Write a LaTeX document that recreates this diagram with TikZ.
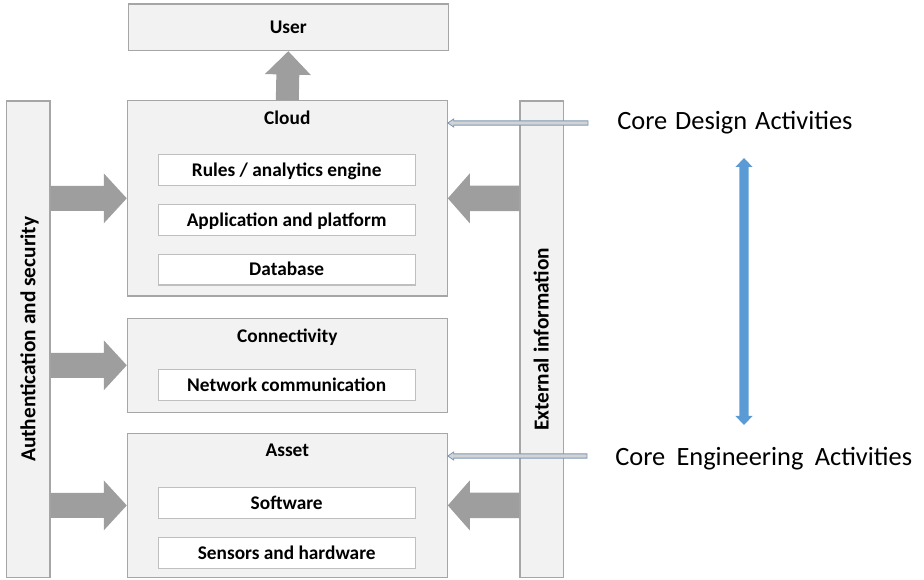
\documentclass[tikz,border=0pt]{standalone}
\usepackage{fontspec}
\setmainfont{Carlito}
\usetikzlibrary{calc,fit}

\definecolor{boxfill}{HTML}{F2F2F2}
\definecolor{boxline}{HTML}{A6A6A6}
\definecolor{innerline}{HTML}{BFBFBF}
\definecolor{arrowgray}{HTML}{9E9E9E}
\definecolor{linkblue}{HTML}{5B9BD5}
\definecolor{thinline}{HTML}{7C98B8}
\definecolor{thinfill}{HTML}{D3D3D3}

% block arrow: [style]{from}{to}{half shaft}{half head}{head length}
\newcommand\blockarrow[6][]{%
  \coordinate (hb) at ($(#3)!#6!(#2)$);
  \path[#1] ($(#2)!#4!90:(#3)$) -- ($(hb)!#4!90:(#3)$) -- ($(hb)!#5!90:(#3)$)
    -- (#3) -- ($(hb)!#5!-90:(#3)$) -- ($(hb)!#4!-90:(#3)$)
    -- ($(#2)!#4!-90:(#3)$) -- cycle;}

% two-headed block arrow: [style]{from}{to}{half shaft}{half head}{head length}
\newcommand\twowayarrow[6][]{%
  \coordinate (ha) at ($(#2)!#6!(#3)$);
  \coordinate (hb) at ($(#3)!#6!(#2)$);
  \path[#1] (#2) -- ($(ha)!#5!90:(#3)$) -- ($(ha)!#4!90:(#3)$)
    -- ($(hb)!#4!90:(#3)$) -- ($(hb)!#5!90:(#3)$) -- (#3)
    -- ($(hb)!#5!-90:(#3)$) -- ($(hb)!#4!-90:(#3)$)
    -- ($(ha)!#4!-90:(#3)$) -- ($(ha)!#5!-90:(#3)$) -- cycle;}

\tikzset{
  layer/.style={draw=boxline, fill=boxfill, line width=0.8pt, inner sep=0pt},
  part/.style={draw=innerline, fill=white, line width=0.8pt, inner sep=0pt,
    minimum width=192.5pt, minimum height=23pt,
    font=\fontsize{14.5pt}{17pt}\selectfont\bfseries, text height=9.3pt, text depth=0pt},
  heading/.style={anchor=base, inner sep=0pt, font=\fontsize{14.5pt}{17pt}\selectfont\bfseries},
  sidetext/.style={rotate=90, inner sep=0pt, text height=10.5pt, text depth=0pt,
    font=\fontsize{16pt}{19pt}\selectfont\bfseries},
  activity/.style={anchor=base west, inner sep=0pt, font=\fontsize{19.8pt}{23pt}\selectfont},
  bigarrow/.style={fill=arrowgray},
  thinarrow/.style={fill=thinfill, draw=thinline, line width=0.6pt, line join=miter},
  bluearrow/.style={fill=linkblue},
}

\begin{document}
\begin{tikzpicture}[x=0.75pt, y=-0.75pt]
  \useasboundingbox (0,0) rectangle (924,580);

  % layers
  \node[layer, fit={(128.3,4) (448.3,50.7)}] (user) {};
  \node[layer, fit={(127.3,100.7) (447.3,296)}] (cloud) {};
  \node[layer, fit={(127.3,318.3) (447.3,412.3)}] (conn) {};
  \node[layer, fit={(127.3,433.3) (447.3,577.5)}] (asset) {};
  \node[layer, fit={(6.7,101) (50,577.5)}] (auth) {};
  \node[layer, fit={(520,101) (563.3,577.5)}] (ext) {};

  % headings
  \node[heading] (userT) at (288.3,33.2) {User};
  \node[heading] (cloudT) at (287.3,125) {Cloud};
  \node[heading] (connT) at (287.3,342.5) {Connectivity};
  \node[heading] (assetT) at (287.3,456.7) {Asset};

  % components
  \node[part] (rules) at (286.7,170.3) {Rules / analytics engine};
  \node[part] (app) at (286.7,220) {Application and platform};
  \node[part] (db) at (286.7,269.7) {Database};
  \node[part] (net) at (286.7,385) {Network communication};
  \node[part] (sw) at (286.7,502.8) {Software};
  \node[part] (hw) at (286.7,552.8) {Sensors and hardware};

  % side bars
  \node[sidetext] (authT) at (auth.center) {Authentication and security};
  \node[sidetext] (extT) at (ext.center) {External information};

  % block arrows between layers
  \coordinate (a1) at (auth.east |- cloud.center);
  \coordinate (a2) at (auth.east |- conn.center);
  \coordinate (a3) at (auth.east |- asset.center);
  \coordinate (e1) at (ext.west |- cloud.center);
  \coordinate (e3) at (ext.west |- asset.center);
  \coordinate (c1) at (cloud.east |- cloud.center);
  \coordinate (s3) at (asset.east |- asset.center);
  \coordinate (up1) at (cloud.north);
  \coordinate (up2) at (user.south);

  \blockarrow[bigarrow]{up1}{up2}{8.6pt}{17.25pt}{17.5pt}
  \blockarrow[bigarrow]{a1}{cloud.west}{9.4pt}{18.75pt}{17.25pt}
  \blockarrow[bigarrow]{a2}{conn.west}{9.4pt}{18.75pt}{17.25pt}
  \blockarrow[bigarrow]{a3}{asset.west}{9.4pt}{18.75pt}{17.25pt}
  \blockarrow[bigarrow]{e1}{c1}{9.6pt}{18.75pt}{16.5pt}
  \blockarrow[bigarrow]{e3}{s3}{9.6pt}{18.75pt}{16.5pt}

  % activity labels
  \node[activity] (design) at (617,129.5)
    {Core\hspace{1.5pt} Design\hspace{1.5pt} Activities};
  \node[activity] (engineering) at (615,465)
    {Core\hspace{4pt} Engineering\hspace{4pt} Activities};

  % thin pointers from the labels to the layers
  \coordinate (d0) at (588,123);
  \coordinate (d1) at (cloud.east |- d0);
  \coordinate (g0) at (587,456);
  \coordinate (g1) at (asset.east |- g0);
  \blockarrow[thinarrow]{d0}{d1}{1.6pt}{3.1pt}{4.5pt}
  \blockarrow[thinarrow]{g0}{g1}{1.6pt}{3.1pt}{4.5pt}

  % span between design and engineering
  \coordinate (b0) at (744,158);
  \coordinate (b1) at (744,425);
  \twowayarrow[bluearrow]{b0}{b1}{3.4pt}{6.4pt}{6.75pt}
\end{tikzpicture}
\end{document}
